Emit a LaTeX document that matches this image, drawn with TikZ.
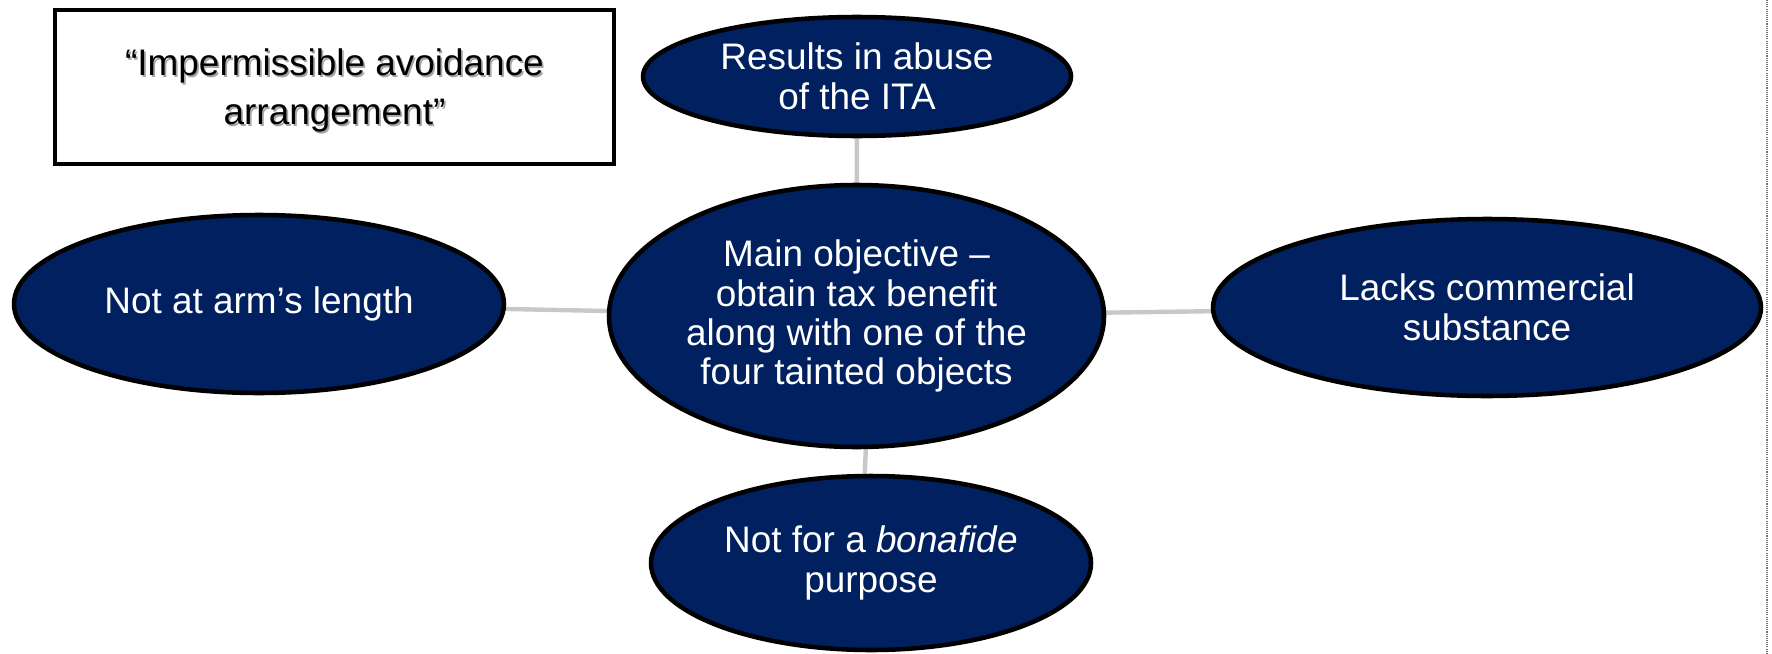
\documentclass[tikz,border=0pt]{standalone}
\usepackage{fontspec}
\setmainfont{Liberation Sans}
\usepackage{xcolor}
\usepackage{tikz}
\usetikzlibrary{shapes.geometric, backgrounds}
\definecolor{itanavy}{RGB}{0,32,96}
\definecolor{linkgrey}{RGB}{200,200,200}
\newcommand{\shadowed}[1]{\leavevmode\rlap{\kern1.3pt\raisebox{-1.3pt}{\textcolor{black!35}{#1}}}#1}

\tikzset{
    testbubble/.style={
        ellipse,
        fill=itanavy,
        draw=black,
        line width=3.4pt,
        inner sep=0pt,
        text=white,
        align=center,
        font=\fontsize{27.7}{29.6}\selectfont
    },
    link/.style={draw=linkgrey, line width=3.3pt}
}

\begin{document}
\begin{tikzpicture}[x=0.75pt, y=-0.75pt]
\useasboundingbox (0,0) rectangle (1772,653);

\node[
    draw=black,
    line width=3pt,
    minimum width=419pt,
    minimum height=115.5pt,
    inner sep=0pt,
    align=center,
    font=\fontsize{27.7}{36.5}\selectfont
] (gaarbox) at (334.5,87)
{\rule{0pt}{27pt}\shadowed{“Impermissible avoidance}\\\shadowed{arrangement”}};

\node[testbubble, minimum width=371.25pt, minimum height=196.5pt,
    font=\fontsize{27.7}{29.3}\selectfont] (mainobj) at (856.5,316)
{Main objective –\\obtain tax benefit\\along with one of the\\four tainted objects};

\node[testbubble, minimum width=321pt, minimum height=89.25pt] (abuse) at (857,76.5)
{Results in abuse\\of the ITA};

\node[testbubble, minimum width=367.5pt, minimum height=133.5pt] (armslen) at (259,304)
{Not at arm’s length};

\node[testbubble, minimum width=411pt, minimum height=132.75pt] (substance) at (1487,307.5)
{Lacks commercial\\substance};

\node[testbubble, minimum width=330pt, minimum height=130.5pt] (bonafide) at (871,563)
{Not for a \textit{bonafide}\\purpose};

\begin{scope}[on background layer]
\draw[link] (abuse) -- (mainobj);
\draw[link] (armslen) -- (mainobj);
\draw[link] (mainobj) -- (substance);
\draw[link] (mainobj.-86) -- (bonafide.94);
\end{scope}

% slide edge
\draw[black!55, line width=0.8pt, dash pattern=on 0.8pt off 0.8pt] (1767,0) -- (1767,653);
\end{tikzpicture}
\end{document}
